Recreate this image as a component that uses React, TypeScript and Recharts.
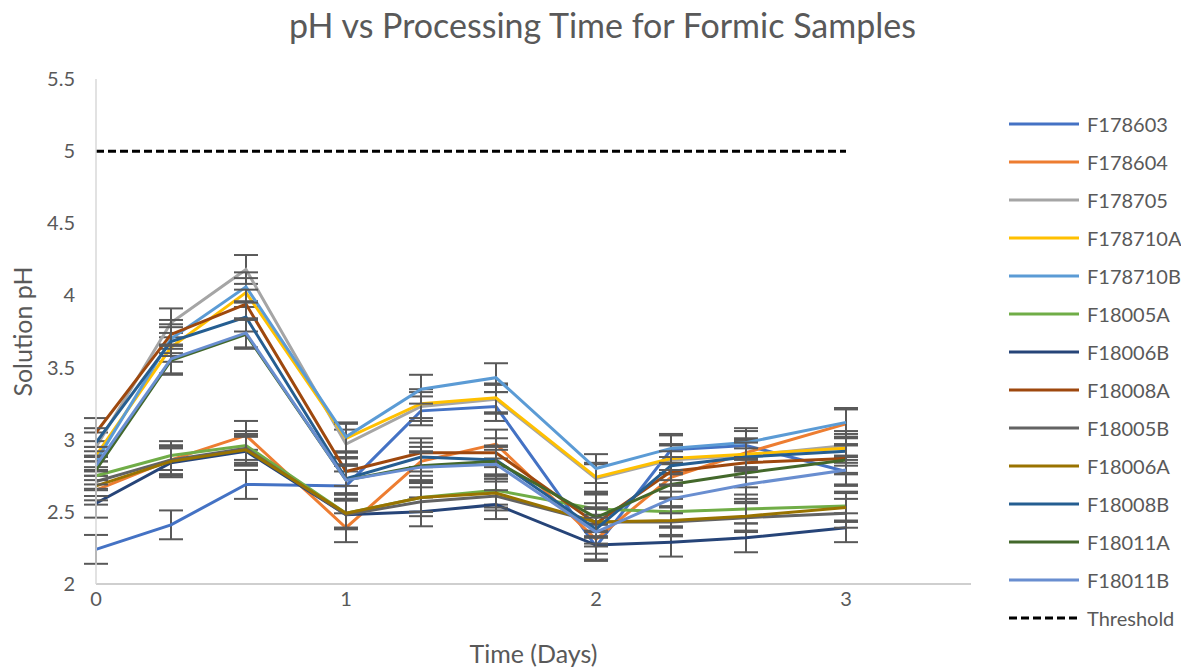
import { LineChart, Line, XAxis, YAxis, Legend, ErrorBar } from 'recharts';

const times = [0, 0.3, 0.6, 1, 1.3, 1.6, 2, 2.3, 2.6, 3];

const F178603 = [2.24, 2.41, 2.69, 2.68, 3.2, 3.23, 2.26, 2.93, 2.96, 2.78];
const F178604 = [2.65, 2.86, 3.03, 2.39, 2.85, 2.97, 2.31, 2.74, 2.91, 3.11];
const F178705 = [2.95, 3.81, 4.18, 2.97, 3.23, 3.28, 2.73, 2.86, 2.89, 2.96];
const F178710A = [2.89, 3.64, 4.02, 3.01, 3.25, 3.29, 2.74, 2.87, 2.9, 2.94];
const F178710B = [2.85, 3.7, 4.06, 3.02, 3.35, 3.43, 2.8, 2.94, 2.98, 3.12];
const F18005A = [2.75, 2.89, 2.96, 2.49, 2.6, 2.65, 2.52, 2.5, 2.52, 2.54];
const F18006B = [2.56, 2.84, 2.92, 2.48, 2.5, 2.55, 2.27, 2.29, 2.32, 2.39];
const F18008A = [3.05, 3.73, 3.94, 2.78, 2.91, 2.91, 2.42, 2.78, 2.84, 2.87];
const F18005B = [2.71, 2.86, 2.94, 2.48, 2.57, 2.61, 2.43, 2.43, 2.46, 2.49];
const F18006A = [2.68, 2.85, 2.93, 2.49, 2.6, 2.63, 2.43, 2.44, 2.47, 2.53];
const F18008B = [2.98, 3.68, 3.85, 2.73, 2.88, 2.86, 2.38, 2.82, 2.88, 2.92];
const F18011A = [2.79, 3.55, 3.73, 2.72, 2.82, 2.85, 2.46, 2.69, 2.77, 2.86];
const F18011B = [2.82, 3.56, 3.74, 2.72, 2.81, 2.83, 2.36, 2.59, 2.69, 2.79];

// threshold only drawn at the first and last day
const threshold = [5, null, null, null, null, null, null, null, null, 5];

const seriesNames = [
  'F178603', 'F178604', 'F178705', 'F178710A', 'F178710B', 'F18005A', 'F18006B',
  'F18008A', 'F18005B', 'F18006A', 'F18008B', 'F18011A', 'F18011B',
];
const seriesValues = [
  F178603, F178604, F178705, F178710A, F178710B, F18005A, F18006B,
  F18008A, F18005B, F18006A, F18008B, F18011A, F18011B,
];
const seriesColors = [
  '#4472C4', '#ED7D31', '#A5A5A5', '#FFC000', '#5B9BD5', '#70AD47', '#264478',
  '#9E480E', '#636363', '#997300', '#255E91', '#43682B', '#698ED0',
];
const errorSize = 0.1;
const legendOrder = [...seriesNames, 'Threshold'];

const yTicks = [2, 2.5, 3, 3.5, 4, 4.5, 5, 5.5];
const xTicks = [0, 1, 2, 3];

const data = times.map((t, i) => {
  const row: Record<string, number | null> = { t, Threshold: threshold[i] };
  seriesNames.forEach((name, s) => {
    row[name] = seriesValues[s][i];
    row[name + '_err'] = errorSize;
  });
  return row;
});

const FONT = 'Lato, "Liberation Sans", sans-serif';
const TEXT = '#595959';

function YTick({ x, y, payload }: any) {
  return (
    <text x={x - 13} y={y} dy={7} textAnchor="end" fill={TEXT} fontSize={20} fontFamily={FONT}>
      {payload.value}
    </text>
  );
}

function LegendBox({ payload }: any) {
  const items = [...(payload || [])].sort(
    (a: any, b: any) => legendOrder.indexOf(a.value) - legendOrder.indexOf(b.value)
  );
  return (
    <div style={{ fontFamily: FONT, fontSize: 20, color: TEXT }}>
      {items.map((entry: any) => {
        const dashed = entry.value === 'Threshold';
        return (
          <div key={entry.value} style={{ display: 'flex', alignItems: 'center', height: 38 }}>
            <svg width={79} height={10} style={{ flex: 'none' }}>
              <line
                x1={1} y1={5} x2={71} y2={5}
                stroke={entry.color}
                strokeWidth={3}
                strokeDasharray={dashed ? '8 4' : undefined}
              />
            </svg>
            <span style={{ whiteSpace: 'nowrap' }}>{entry.value}</span>
          </div>
        );
      })}
    </div>
  );
}

export default function App() {
  return (
    <div style={{ position: 'relative', width: 1173, height: 661, fontFamily: FONT }}>
      <div
        style={{
          position: 'absolute', left: 0, top: 0, width: 1189, textAlign: 'center',
          fontSize: 34, color: TEXT, lineHeight: '40px', marginTop: -3,
        }}
      >
        pH vs Processing Time for Formic Samples
      </div>
      <LineChart width={1173} height={661} data={data} margin={{ top: 71, right: 30, bottom: 8, left: 0 }}>
        <XAxis
          dataKey="t"
          type="number"
          domain={[0, 3.5]}
          ticks={xTicks}
          tickLine={false}
          height={77}
          stroke="#BFBFBF"
          strokeWidth={1.5}
          tick={{ fill: TEXT, fontSize: 20, fontFamily: FONT }}
          label={{ value: 'Time (Days)', position: 'insideBottom', offset: -2, fill: TEXT, fontSize: 25, fontFamily: FONT }}
        />
        <YAxis
          type="number"
          domain={[2, 5.5]}
          ticks={yTicks}
          tickLine={false}
          width={88}
          stroke="#D9D9D9"
          strokeWidth={1.5}
          tick={<YTick />}
          label={{ value: 'Solution pH', angle: -90, position: 'insideLeft', offset: 15, fill: TEXT, fontSize: 25, fontFamily: FONT, style: { textAnchor: 'middle' } }}
        />
        {seriesNames.map((name, s) => (
          <Line
            key={name}
            dataKey={name}
            name={name}
            stroke={seriesColors[s]}
            strokeWidth={3}
            dot={false}
            isAnimationActive={false}
          >
            <ErrorBar dataKey={name + '_err'} direction="y" width={12} stroke="#595959" strokeWidth={2} />
          </Line>
        ))}
        <Line
          dataKey="Threshold"
          name="Threshold"
          stroke="#000000"
          strokeWidth={3}
          strokeDasharray="8 4"
          dot={false}
          connectNulls
          isAnimationActive={false}
        />
        <Legend
          content={<LegendBox />}
          layout="vertical"
          align="right"
          verticalAlign="top"
          wrapperStyle={{ left: 1000, top: 97, width: 180 }}
        />
      </LineChart>
    </div>
  );
}
